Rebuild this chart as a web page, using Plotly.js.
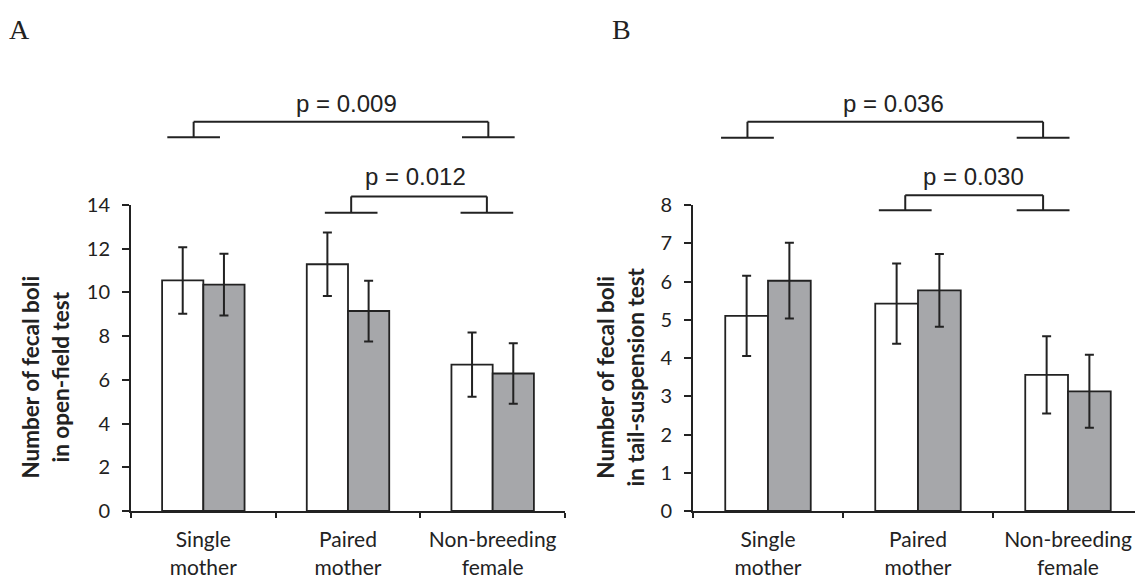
<!DOCTYPE html>
<html>
<head>
<meta charset="utf-8">
<script src="https://cdn.plot.ly/plotly-3.0.1.min.js"></script>
<style>
  html, body { margin: 0; padding: 0; background: #ffffff; }
  #chart { width: 1135px; height: 579px; }
</style>
</head>
<body>
<div id="chart"></div>
<script>
// ---------- data ----------
const categories = ["Single<br>mother", "Paired<br>mother", "Non-breeding<br>female"];

// Panel A: open-field test
const openFieldWhite    = [10.55, 11.29, 6.70];
const openFieldWhiteErr = [1.52, 1.45, 1.47];
const openFieldGray     = [10.36, 9.15, 6.29];
const openFieldGrayErr  = [1.41, 1.39, 1.38];

// Panel B: tail-suspension test
const tailWhite    = [5.10, 5.42, 3.56];
const tailWhiteErr = [1.05, 1.05, 1.01];
const tailGray     = [6.02, 5.77, 3.13];
const tailGrayErr  = [0.99, 0.95, 0.955];

// axis titles
const yTitleA = "Number of fecal boli<br>in open-field test";
const yTitleB = "Number of fecal boli<br>in tail-suspension test";

// significance comparisons: [leftCategory, rightCategory, p-value label]
const compsA = [[0, 2, "p = 0.009"], [1, 2, "p = 0.012"]];
const compsB = [[0, 2, "p = 0.036"], [1, 2, "p = 0.030"]];

// ---------- styling ----------
const INK = "#222222";
const GRAY = "#a6a7aa";
const W = 1135;
const tickFamily = "Lato, 'Open Sans', sans-serif";

function barTrace(vals, errs, fill, xa, ya) {
  return {
    type: "bar",
    x: categories,
    y: vals,
    xaxis: xa, yaxis: ya,
    marker: { color: fill, line: { color: INK, width: 1.8 } },
    error_y: { type: "data", array: errs, visible: true, color: INK, thickness: 2, width: 4.5 },
    showlegend: false,
    hoverinfo: "skip"
  };
}

const traces = [
  barTrace(openFieldWhite, openFieldWhiteErr, "#ffffff", "x", "y"),
  barTrace(openFieldGray, openFieldGrayErr, GRAY, "x", "y"),
  barTrace(tailWhite, tailWhiteErr, "#ffffff", "x2", "y2"),
  barTrace(tailGray, tailGrayErr, GRAY, "x2", "y2")
];

// bracket geometry (category offsets / paper heights)
const bracketSpecA = [
  { l: -0.067, r: -0.03, top: 1.272, foot: 1.221, textX: 0.99, textY: 1.333 },
  { l: 0.022, r: -0.04, top: 1.028, foot: 0.975, textX: 1.47, textY: 1.092 }
];
const bracketSpecB = [
  { l: -0.137, r: -0.166, top: 1.272, foot: 1.220, textX: 0.837, textY: 1.333 },
  { l: -0.085, r: -0.166, top: 1.032, foot: 0.983, textX: 1.37, textY: 1.092 }
];

const shapes = [];
const annotations = [];
function addBrackets(comps, specs, xref, half) {
  comps.forEach((c, i) => {
    const s = specs[i];
    const xl = c[0] + s.l, xr = c[1] + s.r;
    const ln = { color: INK, width: 2 };
    const base = { type: "line", xref: xref, yref: "paper", line: ln, layer: "above" };
    shapes.push(Object.assign({}, base, { x0: xl, x1: xl, y0: s.foot, y1: s.top }));
    shapes.push(Object.assign({}, base, { x0: xl, x1: xr, y0: s.top, y1: s.top }));
    shapes.push(Object.assign({}, base, { x0: xr, x1: xr, y0: s.foot, y1: s.top }));
    shapes.push(Object.assign({}, base, { x0: xl - half, x1: xl + half, y0: s.foot, y1: s.foot }));
    shapes.push(Object.assign({}, base, { x0: xr - half, x1: xr + half, y0: s.foot, y1: s.foot }));
    annotations.push({
      xref: xref, yref: "paper", x: s.textX, y: s.textY,
      text: c[2], showarrow: false, xanchor: "center", yanchor: "middle",
      font: { family: "'Liberation Sans', Arial, sans-serif", size: 24, color: INK }
    });
  });
}
addBrackets(compsA, bracketSpecA, "x", 0.182);
addBrackets(compsB, bracketSpecB, "x2", 0.176);

// y-axis titles (rotated, placed like the original figure)
function yTitle(text, xPx) {
  return {
    xref: "paper", yref: "paper", x: xPx / W, y: 0.436,
    xanchor: "center", yanchor: "middle", textangle: -90, showarrow: false,
    text: "<b>" + text + "</b>", align: "center",
    font: { family: tickFamily, size: 22.5, color: INK }
  };
}
annotations.push(yTitle(yTitleA, 45));
annotations.push(yTitle(yTitleB, 620));

// panel letters
annotations.push({ xref: "paper", yref: "paper", x: 7 / W, y: 1.575, xanchor: "left", yanchor: "middle",
  text: "A", showarrow: false, font: { family: "'Liberation Serif', 'Times New Roman', serif", size: 28, color: INK } });
annotations.push({ xref: "paper", yref: "paper", x: 610 / W, y: 1.575, xanchor: "left", yanchor: "middle",
  text: "B", showarrow: false, font: { family: "'Liberation Serif', 'Times New Roman', serif", size: 28, color: INK } });

function xAxis(domain, range) {
  return {
    domain: domain, range: range, type: "category",
    showline: true, linecolor: INK, linewidth: 2,
    ticks: "outside", tickson: "boundaries", ticklen: 5, tickwidth: 2, tickcolor: INK,
    ticklabelstandoff: 9,
    showgrid: false, zeroline: false, fixedrange: true,
    tickfont: { family: tickFamily, size: 21, color: INK }
  };
}
function yAxis(anchor, range, dtick) {
  return {
    anchor: anchor, range: range, dtick: dtick, tick0: 0,
    showline: true, linecolor: INK, linewidth: 2,
    ticks: "outside", ticklen: 7, tickwidth: 2, tickcolor: INK,
    ticklabelstandoff: 8,
    showgrid: false, zeroline: false, fixedrange: true,
    tickfont: { family: tickFamily, size: 20, color: INK }
  };
}

const layout = {
  width: 1135, height: 579,
  margin: { l: 0, r: 0, t: 205, b: 68, pad: 0 },
  paper_bgcolor: "#ffffff", plot_bgcolor: "#ffffff",
  barmode: "group", bargap: 0.43, bargroupgap: 0,
  xaxis: xAxis([131 / W, 565 / W], [-0.5, 2.5]),
  yaxis: yAxis("x", [0, 14], 2),
  xaxis2: xAxis([693 / W, 1], [-0.5, -0.5 + (W - 693) / 150]),
  yaxis2: yAxis("x2", [0, 8], 1),
  shapes: shapes,
  annotations: annotations,
  showlegend: false
};
layout.xaxis.anchor = "y";
layout.xaxis2.anchor = "y2";

Plotly.newPlot("chart", traces, layout, { displayModeBar: false, staticPlot: true });
</script>
</body>
</html>
